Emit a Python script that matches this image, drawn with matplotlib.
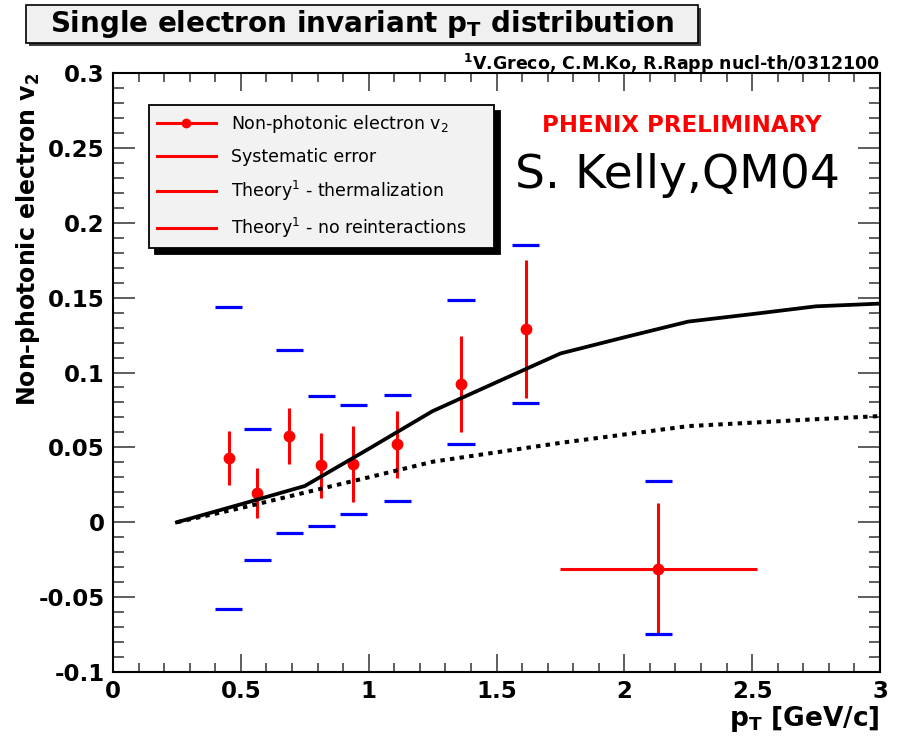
import matplotlib
matplotlib.use("Agg")
import matplotlib.pyplot as plt
import numpy as np
from matplotlib.lines import Line2D
from matplotlib.patches import Rectangle
from matplotlib.ticker import MultipleLocator, FuncFormatter

# ---------------- data ----------------
pt = [0.453, 0.565, 0.690, 0.815, 0.940, 1.112, 1.361, 1.615, 2.133]
v2 = [0.0427, 0.0198, 0.0576, 0.0380, 0.0391, 0.0520, 0.0922, 0.1290, -0.0309]
v2_err = [0.018, 0.0167, 0.0187, 0.0215, 0.0253, 0.0225, 0.032, 0.046, 0.0436]
pt_err = [0, 0, 0, 0, 0, 0, 0, 0, 0.384]
sys_hi = [0.144, 0.0625, 0.1153, 0.0842, 0.078, 0.0849, 0.1487, 0.185, 0.0275]
sys_lo = [-0.0576, -0.0253, -0.0071, -0.0022, 0.0056, 0.0142, 0.052, 0.0793, -0.0745]

theory_pt = [0.25, 0.5, 0.75, 1.0, 1.25, 1.5, 1.75, 2.0, 2.25, 2.5, 2.75, 3.0]
theory_therm = [0.0, 0.012, 0.0242, 0.049, 0.0742, 0.0935, 0.1127, 0.1235, 0.134, 0.139, 0.1442, 0.146]
theory_noreint = [0.0, 0.0095, 0.0198, 0.030, 0.0404, 0.0467, 0.053, 0.0586, 0.0642, 0.0665, 0.0688, 0.0709]

legend_labels = ["Non-photonic electron v$_2$", "Systematic error",
                 "Theory$^1$ - thermalization", "Theory$^1$ - no reinteractions"]

plt.rcParams['axes.unicode_minus'] = False
plt.rcParams['font.family'] = ['DejaVu Sans']
plt.rcParams['mathtext.fontset'] = 'dejavusans'

W, H = 899, 736
fig = plt.figure(figsize=(W / 100, H / 100), dpi=100)
fig.patch.set_facecolor('white')

def fx(px):
    return px / W

def fy(py):
    return 1 - py / H

ax = fig.add_axes([fx(113), fy(672), fx(880) - fx(113), fy(73) - fy(672)])
ax.set_xlim(0, 3)
ax.set_ylim(-0.1, 0.3)

# systematic error bars
sys_hw = 0.053
pt_a = np.array(pt)
ax.hlines(sys_hi, pt_a - sys_hw, pt_a + sys_hw, colors='#0000ff', lw=2.3, zorder=4)
ax.hlines(sys_lo, pt_a - sys_hw, pt_a + sys_hw, colors='#0000ff', lw=2.3, zorder=4)

# data points
ax.errorbar(pt, v2, yerr=v2_err, xerr=pt_err, fmt='o', color='#ff0000',
            ms=7.5, elinewidth=2.2, capsize=0, zorder=3)

# theory curves
ax.plot(theory_pt, theory_therm, color='black', lw=2.7, zorder=5,
        solid_joinstyle='round')
ax.plot(theory_pt, theory_noreint, color='black', lw=2.9, zorder=5,
        linestyle=(0, (1.1, 1.3)), dash_capstyle='butt')

# axes styling
for s in ax.spines.values():
    s.set_linewidth(1.5)
    s.set_color('black')
ax.xaxis.set_major_locator(MultipleLocator(0.5))
ax.xaxis.set_minor_locator(MultipleLocator(0.1))
ax.yaxis.set_major_locator(MultipleLocator(0.05))
ax.yaxis.set_minor_locator(MultipleLocator(0.01))
fmt = FuncFormatter(lambda v, p: ('%g' % round(v, 4)))
ax.xaxis.set_major_formatter(fmt)
ax.yaxis.set_major_formatter(fmt)
ax.tick_params(axis='both', which='both', direction='in', top=True, right=True,
               color='#505050', width=1.3)
ax.tick_params(axis='x', which='major', length=13, pad=6, labelsize=16.5)
ax.tick_params(axis='x', which='minor', length=6.5)
ax.tick_params(axis='y', which='major', length=16, pad=6, labelsize=16.5)
ax.tick_params(axis='y', which='minor', length=8)
for lab in ax.get_xticklabels() + ax.get_yticklabels():
    lab.set_fontweight('bold')

ax.set_xlabel(r"p$_\mathbf{T}$ [GeV/c]", fontsize=19, fontweight='bold', loc='right')
ax.xaxis.set_label_coords(1.0, -0.054)
ax.set_ylabel(r"Non-photonic electron v$_\mathbf{2}$", fontsize=17,
              fontweight='bold', loc='top')
ax.yaxis.set_label_coords((42 - 113) / 767, 1.0)

# legend
handles = [
    Line2D([], [], color='#ff0000', lw=2.2, marker='o', ms=6),
    Line2D([], [], color='#ff0000', lw=2.2),
    Line2D([], [], color='#ff0000', lw=2.2),
    Line2D([], [], color='#ff0000', lw=2.2),
]
leg = ax.legend(handles, legend_labels, loc='upper left',
                bbox_to_anchor=(fx(149), fy(105), fx(494) - fx(149), 0.0),
                bbox_transform=fig.transFigure, mode='expand', borderaxespad=0,
                fontsize=12.5, handlelength=3.4, handletextpad=0.85,
                labelspacing=0.75, borderpad=0.45, fancybox=False,
                frameon=True, framealpha=1, edgecolor='black', facecolor='#f2f2f2',
                shadow={'ox': 4.5, 'oy': -4.5, 'color': 'black', 'alpha': 1.0},
                numpoints=1)
leg.get_frame().set_linewidth(1.3)
leg.set_zorder(10)

# title box
shadow = Rectangle((fx(29), fy(46)), fx(698) - fx(26), fy(5) - fy(43),
                   transform=fig.transFigure, facecolor='#404040',
                   edgecolor='none', zorder=1)
box = Rectangle((fx(26), fy(43)), fx(698) - fx(26), fy(5) - fy(43),
                transform=fig.transFigure, facecolor='#f0f0f0',
                edgecolor='black', lw=1.2, zorder=2)
fig.add_artist(shadow)
fig.add_artist(box)
fig.text(fx(362), fy(24), r"Single electron invariant p$_\mathbf{T}$ distribution",
         ha='center', va='center', fontsize=20, fontweight='bold', zorder=3)

fig.text(fx(880), fy(64), r"$^\mathbf{1}$V.Greco, C.M.Ko, R.Rapp nucl-th/0312100",
         ha='right', va='center', fontsize=12.5, fontweight='bold')

fig.text(fx(682), fy(125), "PHENIX PRELIMINARY", color='#ff0000',
         ha='center', va='center', fontsize=16.5, fontweight='bold')
fig.text(fx(515), fy(176), "S. Kelly,QM04", color='black',
         ha='left', va='center', fontsize=34)

fig.savefig("out.png", dpi=100)
